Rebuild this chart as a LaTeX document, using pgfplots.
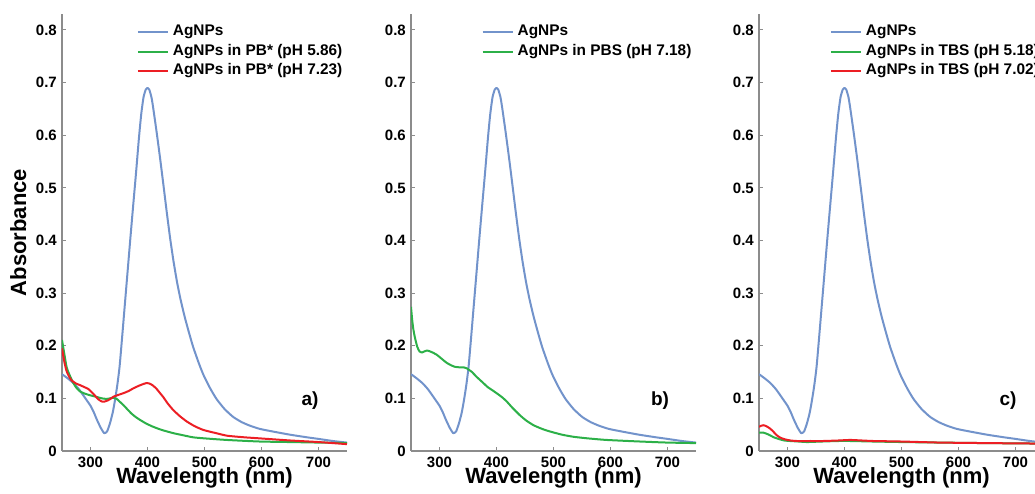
\documentclass[border=0pt]{standalone}
\usepackage{fontspec}
\setmainfont{Liberation Sans}
\usepackage{pgfplots}
\usepackage{pgfplotstable}
\pgfplotsset{compat=1.18}

\definecolor{axisgray}{RGB}{140,140,140}
\definecolor{agblue}{RGB}{114,147,203}
\definecolor{aggreen}{RGB}{44,176,72}
\definecolor{agred}{RGB}{236,30,36}

\newcommand\tickfont{\fontsize{15}{15}\selectfont\bfseries}
\newcommand\legfont{\fontsize{15.4}{16}\selectfont\bfseries}
\newcommand\labfont{\fontsize{22}{22}\selectfont\bfseries}
\newcommand\tagfont{\fontsize{19}{19}\selectfont\bfseries}

% Bare AgNPs spectrum (common to all panels)
\pgfplotstableread{
wl  A
250 0.146
260 0.138
270 0.129
280 0.117
293 0.097
300 0.086
306 0.073
311 0.060
318 0.044
324 0.034
329 0.037
334 0.052
339 0.073
343 0.097
347 0.125
351 0.160
355 0.210
360 0.275
365 0.340
370 0.405
375 0.468
380 0.530
385 0.595
389 0.640
393 0.672
397 0.687
400 0.690
403 0.687
407 0.672
410 0.652
416 0.606
422 0.557
428 0.505
434 0.452
440 0.402
446 0.358
452 0.320
458 0.288
465 0.256
472 0.228
480 0.198
490 0.167
498 0.145
510 0.119
521 0.099
535 0.080
550 0.065
565 0.055
580 0.048
597 0.042
620 0.037
650 0.031
680 0.026
700 0.023
725 0.019
750 0.016
}\agnps

% a) PB* buffers
\pgfplotstableread{
wl  A
250 0.211
254 0.185
258 0.160
263 0.145
270 0.129
276 0.119
282 0.113
290 0.109
299 0.106
310 0.103
320 0.100
328 0.099
334 0.100
340 0.101
346 0.099
352 0.093
358 0.087
364 0.080
372 0.071
380 0.064
387 0.059
398 0.052
410 0.046
425 0.040
445 0.034
462 0.030
480 0.026
500 0.024
539 0.021
597 0.018
650 0.017
700 0.016
750 0.015
}\pbacid

\pgfplotstableread{
wl  A
250 0.195
254 0.170
258 0.152
263 0.140
267 0.134
275 0.128
282 0.125
290 0.121
296 0.118
302 0.112
308 0.105
314 0.098
320 0.094
325 0.094
330 0.096
335 0.099
340 0.103
350 0.107
358 0.110
367 0.114
375 0.119
385 0.124
392 0.127
398 0.129
404 0.128
410 0.124
416 0.118
422 0.110
428 0.102
435 0.091
445 0.078
457 0.066
469 0.056
483 0.047
498 0.040
520 0.034
540 0.029
570 0.026
597 0.024
650 0.020
700 0.017
750 0.013
}\pbneutral

% b) PBS
\pgfplotstableread{
wl  A
250 0.274
252 0.250
254 0.232
257 0.215
261 0.198
265 0.189
269 0.187
273 0.189
278 0.191
284 0.189
290 0.186
295 0.183
303 0.176
312 0.168
320 0.163
327 0.160
335 0.159
342 0.159
348 0.157
352 0.154
357 0.150
365 0.141
372 0.134
377 0.129
385 0.121
392 0.116
400 0.110
410 0.102
418 0.094
428 0.082
441 0.068
452 0.058
465 0.049
480 0.042
494 0.037
515 0.031
535 0.027
560 0.024
593 0.021
652 0.018
700 0.016
750 0.015
}\pbs

% c) TBS buffers
\pgfplotstableread{
wl  A
250 0.035
257 0.035
263 0.033
269 0.030
276 0.026
284 0.023
294 0.020
304 0.019
320 0.018
334 0.017
360 0.018
390 0.019
410 0.019
450 0.018
500 0.017
568 0.016
650 0.015
750 0.014
}\tbsacid

\pgfplotstableread{
wl  A
250 0.046
254 0.048
258 0.049
263 0.047
269 0.043
275 0.037
281 0.030
288 0.025
296 0.022
305 0.020
316 0.019
340 0.019
363 0.019
390 0.020
410 0.021
430 0.020
450 0.019
500 0.018
568 0.016
650 0.015
750 0.014
}\tbsneutral

\pgfplotsset{
  panel/.style={
    scale only axis, width=285pt, height=436.8pt,
    xmin=250, xmax=750, ymin=0, ymax=0.83,
    axis lines*=left,
    axis line style={draw=axisgray, line width=1.2pt},
    tick style={draw=axisgray, line width=1pt},
    tick align=inside, major tick length=4pt,
    xtick={300,400,500,600,700},
    xticklabels={300,400,500,600,700},
    ytick={0,0.1,0.2,0.3,0.4,0.5,0.6,0.7,0.8},
    yticklabels={0,0.1,0.2,0.3,0.4,0.5,0.6,0.7,0.8},
    /pgf/number format/assume math mode=true,
    tick label style={font=\tickfont},
    xticklabel style={anchor=base, inner sep=0pt, yshift=-16.5pt},
    yticklabel style={anchor=east, inner sep=0pt, xshift=-5pt},
    xlabel={Wavelength (nm)},
    xlabel style={font=\labfont, at={(axis description cs:0.5,0)}, anchor=base, yshift=-33pt},
    legend cell align=left,
    legend image code/.code={\draw[#1] (0pt,0pt) -- (30pt,0pt);},
    legend style={draw=none, fill=none, inner sep=0pt, outer sep=0pt,
      anchor=north west, row sep=5.6pt, column sep=4pt,
      nodes={inner sep=0pt, font=\legfont, text height=10.5pt, text depth=3.5pt}},
    every axis plot/.append style={line width=2pt, smooth, tension=0.35, line join=round},
  },
}

\begin{document}
\begin{tikzpicture}
% panel a
\begin{axis}[panel, at={(62pt,43pt)}, anchor=south west,
  ylabel={Absorbance},
  ylabel style={font=\labfont, at={(axis description cs:-0.1263,0.5)}, anchor=base},
  legend style={at={(axis description cs:0.263,0.975)}}]
  \addplot[agblue] table[x=wl,y=A] {\agnps};
  \addplot[aggreen] table[x=wl,y=A] {\pbacid};
  \addplot[agred] table[x=wl,y=A] {\pbneutral};
  \legend{AgNPs, AgNPs in PB* (pH 5.86), AgNPs in PB* (pH 7.23)}
  \node[font=\tagfont] at (axis cs:685,0.095) {a)};
\end{axis}
% panel b
\begin{axis}[panel, at={(411pt,43pt)}, anchor=south west,
  legend style={at={(axis description cs:0.248,0.975)}}]
  \addplot[agblue] table[x=wl,y=A] {\agnps};
  \addplot[aggreen] table[x=wl,y=A] {\pbs};
  \legend{AgNPs, AgNPs in PBS (pH 7.18)}
  \node[font=\tagfont] at (axis cs:687,0.095) {b)};
\end{axis}
% panel c
\begin{axis}[panel, at={(759pt,43pt)}, anchor=south west,
  legend style={at={(axis description cs:0.249,0.975)}}]
  \addplot[agblue] table[x=wl,y=A] {\agnps};
  \addplot[aggreen] table[x=wl,y=A] {\tbsacid};
  \addplot[agred] table[x=wl,y=A] {\tbsneutral};
  \legend{AgNPs, AgNPs in TBS (pH 5.18), AgNPs in TBS (pH 7.02)}
  \node[font=\tagfont] at (axis cs:687,0.095) {c)};
\end{axis}
\pgfresetboundingbox
\path[use as bounding box] (0pt,0pt) rectangle (1035pt,494pt);
\end{tikzpicture}
\end{document}
